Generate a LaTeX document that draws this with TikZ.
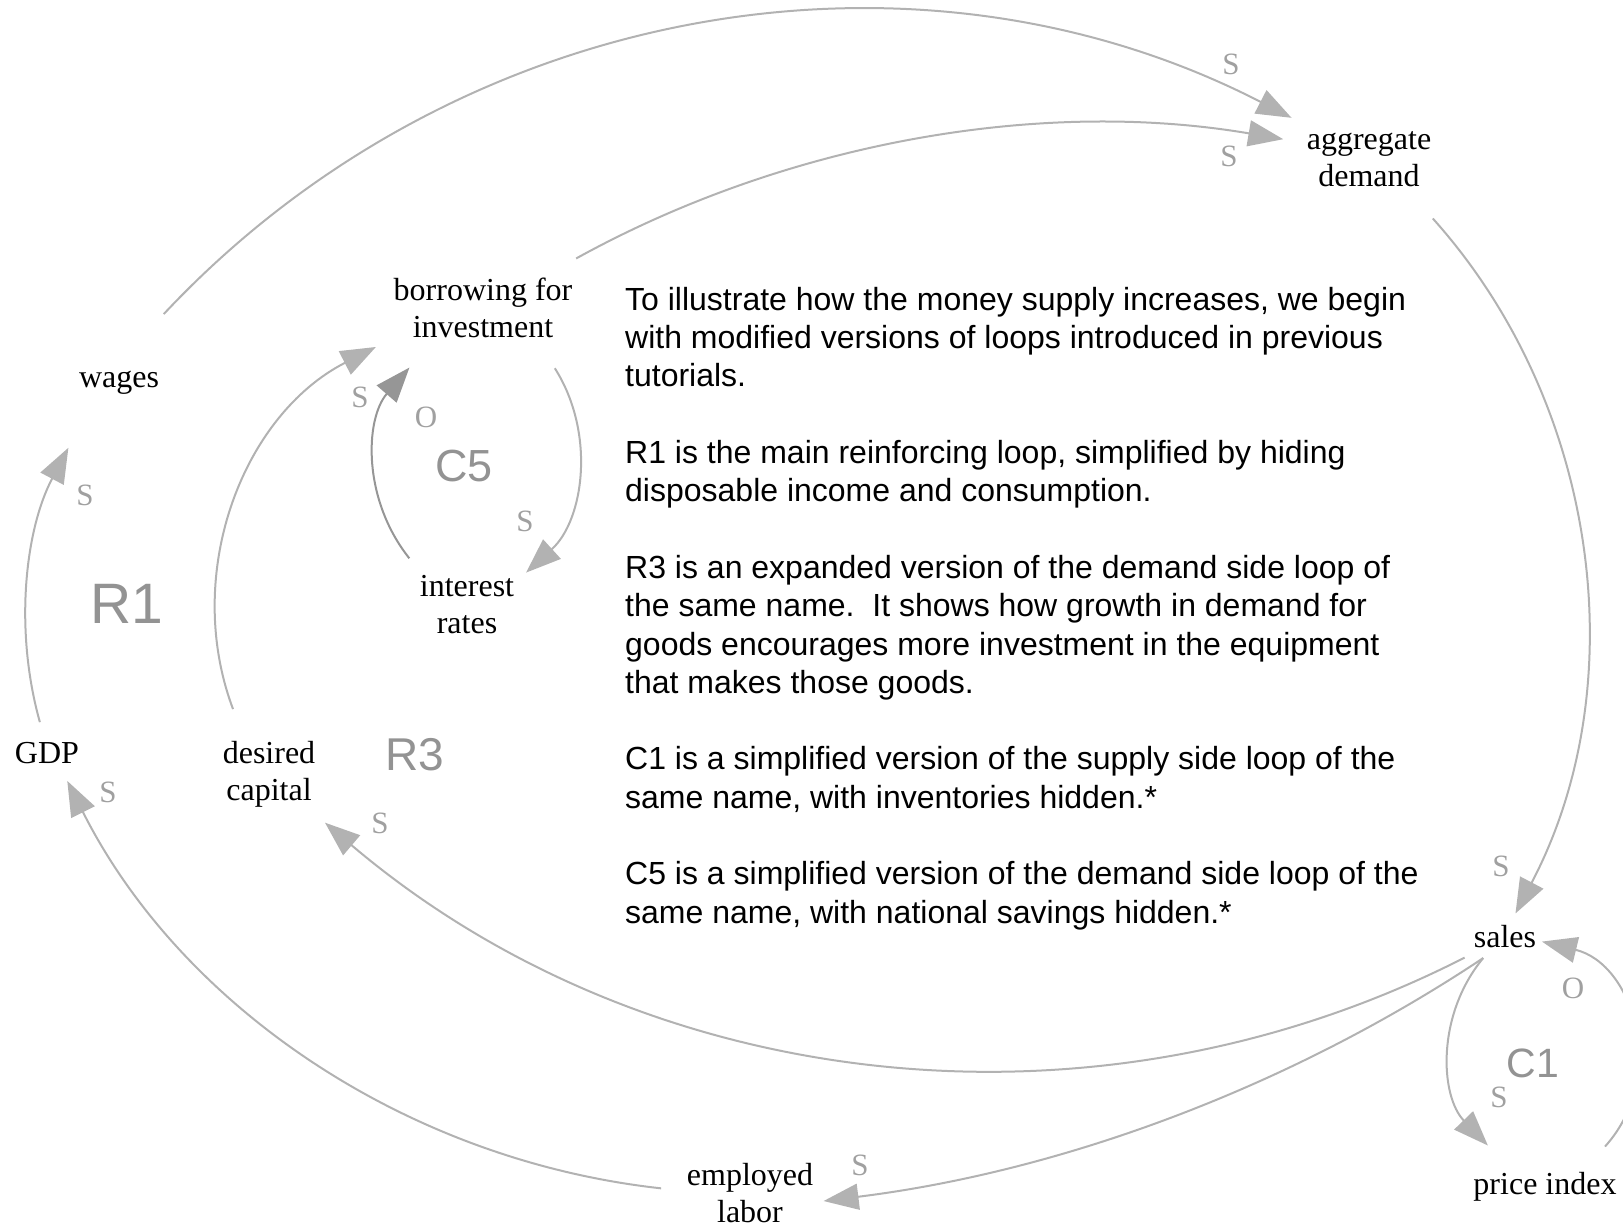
\documentclass[tikz,border=0pt]{standalone}
\usepackage{fontspec}
\setmainfont{Liberation Serif}
\newfontfamily\notefont{Liberation Sans}
\usetikzlibrary{arrows.meta,shapes.geometric}
\definecolor{linkgray}{HTML}{B2B2B2}
\definecolor{darklink}{HTML}{969696}
\definecolor{polgray}{HTML}{A0A0A0}
\definecolor{loopgray}{HTML}{939393}

\begin{document}
\begin{tikzpicture}[x=1pt, y=-1pt,
  var/.style={ellipse, inner sep=0pt, align=center,
              font=\fontsize{32}{37}\selectfont},
  link/.style={draw=linkgray, line width=2pt,
               -{Triangle[length=35pt,width=26pt]}},
  pol/.style={text=polgray, inner sep=0pt, font=\fontsize{31}{31}\selectfont},
  loopname/.style={text=loopgray, inner sep=0pt,
                   font=\notefont\fontsize{#1}{#1}\selectfont},
  note/.style={anchor=north west, inner sep=0pt, align=left,
               font=\notefont\fontsize{32}{38.3}\selectfont},
]
  \useasboundingbox (0,0) rectangle (1623,1228);

  \node[var, minimum size=164pt] (wages) at (119,383) {wages};
  \node[var, minimum height=62pt] (gdp) at (47,753) {GDP};
  \node[var, minimum size=148pt] (desired) at (269,774) {desired\\capital};
  \node[var, minimum height=146pt] (borrow) at (483,308) {borrowing for\\investment};
  \node[var, minimum size=148pt] (interest) at (467,605) {interest\\rates};
  \node[var, minimum size=172pt] (aggdem) at (1369,159) {aggregate\\demand};
  \node[var, minimum height=48pt] (sales) at (1505,937) {sales};
  \node[var, minimum height=100pt] (price) at (1545,1187) {price index};
  \node[var] (labor) at (750,1193) {employed\\labor};

  \draw[link] (wages.57) .. controls (455,3) and (913,-77) .. (aggdem.152);
  \draw[link] (borrow.28) .. controls (787,142) and (1041,98) .. (aggdem.167);
  \draw[link] (aggdem.-43) .. controls (1600,405) and (1635,686) .. (sales.66);
  \draw[link, shorten <=9pt] (sales.-153) .. controls (1094,1147) and (646,1095) .. (desired.-41);
  \draw[link, shorten >=-15pt] (sales.-136) .. controls (1285,1090) and (1058,1172) .. (labor.-4);
  \draw[link] (labor.177) .. controls (404,1160) and (180,1005) .. (gdp.-54);
  \draw[link] (gdp.103) .. controls (14,630) and (25,530) .. (wages.-128);
  \draw[link] (desired.119) .. controls (182,573) and (243,415) .. (borrow.-160);
  \draw[link, shorten >=-7pt] (borrow.-40) .. controls (596,433) and (584,520) .. (interest.30);
  \draw[link, draw=darklink, -{Triangle[length=35pt,width=26pt,fill=darklink]}]
    (interest.141) .. controls (362,499) and (365,419) .. (borrow.-141);
  \draw[link] (sales.-136) .. controls (1436,1015) and (1440,1096) .. (price.144);
  \draw[link, shorten >=-6pt] (price.34) .. controls (1668,1077) and (1634,964) .. (sales.-8);

  \node[pol] (p1) at (1231,64) {S};
  \node[pol] (p2) at (1229,156) {S};
  \node[pol] (p3) at (1501,866) {S};
  \node[pol] (p4) at (380,823) {S};
  \node[pol] (p5) at (860,1165) {S};
  \node[pol] (p6) at (108,792) {S};
  \node[pol] (p7) at (85,495) {S};
  \node[pol] (p8) at (360,397) {S};
  \node[pol] (p9) at (525,521) {S};
  \node[pol] (p10) at (426,417) {O};
  \node[pol] (p11) at (1499,1097) {S};
  \node[pol] (p12) at (1573,988) {O};

  \node[loopname=57] (r1) at (127,604) {R1};
  \node[loopname=46] (r3) at (415,755) {R3};
  \node[loopname=45] (c5) at (464,466) {C5};
  \node[loopname=41] (c1) at (1533,1063) {C1};

  \node[note] (story) at (625,287) {To illustrate how the money supply increases, we begin\\
    with modified versions of loops introduced in previous\\
    tutorials.\\[38.3pt]
    R1 is the main reinforcing loop, simplified by hiding\\
    disposable income and consumption.\\[38.3pt]
    R3 is an expanded version of the demand side loop of\\
    the same name.\ \ It shows how growth in demand for\\
    goods encourages more investment in the equipment\\
    that makes those goods.\\[38.3pt]
    C1 is a simplified version of the supply side loop of the\\
    same name, with inventories hidden.*\\[38.3pt]
    C5 is a simplified version of the demand side loop of the\\
    same name, with national savings hidden.*};
\end{tikzpicture}
\end{document}
